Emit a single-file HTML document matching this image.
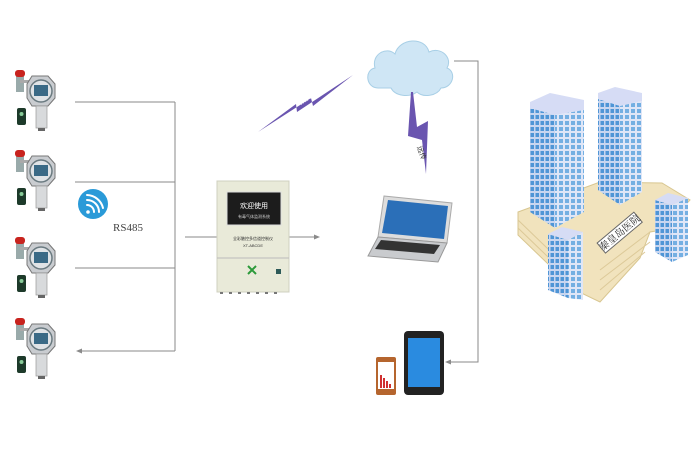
<!DOCTYPE html>
<html><head><meta charset="utf-8"><style>
html,body{margin:0;padding:0;background:#fff;width:700px;height:450px;overflow:hidden}
text{font-family:"Liberation Sans","Noto Sans CJK SC",sans-serif}
</style></head><body>
<svg width="700" height="450" viewBox="0 0 700 450" xmlns="http://www.w3.org/2000/svg">
<defs>
<pattern id="winL" width="5" height="6" patternUnits="userSpaceOnUse">
  <rect width="5" height="6" fill="#c8d6f0"/><rect x="0.5" y="1" width="3.5" height="4" fill="#4f95d6"/>
</pattern>
<pattern id="winR" width="6" height="6" patternUnits="userSpaceOnUse">
  <rect width="6" height="6" fill="#dfe6f7"/><rect x="1" y="1" width="4" height="4" fill="#74afe2"/>
</pattern>
<g id="sensor">
  <rect x="1" y="2" width="8" height="20" fill="#9aa" />
  <rect x="0" y="0" width="10" height="7" rx="3" fill="#c8231e"/>
  <rect x="5" y="10" width="12" height="3" fill="#aaa"/>
  <polygon points="17,6 33,6 40,14 40,28 33,36 17,36 12,28 12,14" fill="#c9ccd0" stroke="#777" stroke-width="1"/>
  <circle cx="26" cy="21" r="11" fill="#dfe3e6" stroke="#6a7a80" stroke-width="1.5"/>
  <rect x="19" y="15" width="14" height="11" fill="#3a6a86"/>
  <rect x="21" y="36" width="11" height="22" fill="#d8dadc" stroke="#999" stroke-width="0.7"/>
  <rect x="23" y="58" width="7" height="3" fill="#666"/>
  <rect x="2" y="38" width="9" height="17" rx="2" fill="#1d3a2a"/>
  <circle cx="6.5" cy="44" r="2" fill="#8c9"/>
</g>
</defs>
<g stroke="#8a8a8a" stroke-width="1" fill="none">
  <line x1="75" y1="102" x2="175" y2="102"/>
  <line x1="75" y1="182" x2="175" y2="182"/>
  <line x1="75" y1="268" x2="175" y2="268"/>
  <line x1="80" y1="351" x2="175" y2="351"/>
  <line x1="175" y1="102" x2="175" y2="351"/>
  <line x1="185" y1="237" x2="217" y2="237"/>
  <line x1="289" y1="237" x2="316" y2="237"/>
  <polyline points="454,61 478,61 478,362 449,362"/>
</g>
<polygon points="76,351 82,348.5 82,353.5" fill="#8a8a8a"/>
<polygon points="320,237 314,234.5 314,239.5" fill="#8a8a8a"/>
<polygon points="445,362 451,359.5 451,364.5" fill="#8a8a8a"/>
<use href="#sensor" x="15" y="70"/>
<use href="#sensor" x="15" y="150"/>
<use href="#sensor" x="15" y="237"/>
<use href="#sensor" x="15" y="318"/>
<circle cx="93" cy="204" r="15" fill="#2a9ad8"/>
<g fill="none" stroke="#fff" stroke-width="2" stroke-linecap="round">
  <path d="M87 205 a7 7 0 0 1 7 7"/>
  <path d="M87 200 a12 12 0 0 1 12 12"/>
  <path d="M87 195 a17 17 0 0 1 16 13"/>
</g>
<circle cx="88" cy="212" r="1.8" fill="#fff"/>
<text x="113" y="231" font-size="11" fill="#444" style="font-family:'Liberation Serif',serif">RS485</text>
<rect x="217" y="181" width="72" height="111" fill="#e9ead9" stroke="#cfd0c0"/>
<line x1="217" y1="258" x2="289" y2="258" stroke="#bbb"/>
<rect x="227" y="192" width="54" height="33" fill="#1c1c1c" stroke="#ddd"/>
<text x="254" y="208" font-size="7" fill="#fff" text-anchor="middle">欢迎使用</text>
<text x="254" y="218" font-size="4" fill="#ccc" text-anchor="middle">有毒气体监测系统</text>
<text x="253" y="240" font-size="4" fill="#333" text-anchor="middle">全彩触控多信道控制仪</text>
<text x="253" y="247" font-size="4" fill="#333" text-anchor="middle">XT-ABCDE</text>
<path d="M248 266 l8 8 M256 266 l-8 8" stroke="#2c9a3a" stroke-width="2"/>
<rect x="276" y="269" width="5" height="5" fill="#2d5a58"/>
<g fill="#777"><rect x="220" y="292" width="3" height="2"/><rect x="229" y="292" width="3" height="2"/><rect x="238" y="292" width="3" height="2"/><rect x="247" y="292" width="3" height="2"/><rect x="256" y="292" width="3" height="2"/><rect x="265" y="292" width="3" height="2"/><rect x="274" y="292" width="3" height="2"/></g>
<polygon points="258,132 296,104 297,112 353,75 313,106 311,98" fill="#6a55b0"/>
<text x="300" y="106" font-size="7" fill="#fff" transform="rotate(-35 300 106)" style="font-family:'Liberation Serif',serif">WiFi</text>
<path d="M378 88 c-12 0 -14 -18 -3 -20 c-4 -14 12 -22 20 -14 c4 -16 30 -18 34 -2 c12 -6 24 6 18 16 c10 4 6 20 -6 20 c-4 8 -18 10 -24 4 c-8 6 -22 4 -26 -4 z" fill="#cfe6f5" stroke="#a8cfe6"/>
<polygon points="411,92 413,92 417,127 428,121 426,174 422,140 408,136" fill="#6a55b0"/>
<text x="417" y="147" font-size="7" fill="#333" transform="rotate(70 417 147)">远传</text>
<polygon points="384,196 452,203 447,243 378,237" fill="#ddd" stroke="#aaa"/>
<polygon points="388,200 448,206 444,239 382,233" fill="#2b6fb8"/>
<polygon points="378,237 447,243 438,262 368,256" fill="#c9cbce" stroke="#999"/>
<polygon points="381,240 440,245 434,254 375,249" fill="#333"/>
<rect x="404" y="331" width="40" height="64" rx="4" fill="#222"/>
<rect x="408" y="338" width="32" height="49" fill="#2a8be0"/>
<rect x="376" y="357" width="20" height="38" rx="2" fill="#b5652e"/>
<rect x="378" y="362" width="16" height="27" fill="#fff"/>
<g fill="#d03030"><rect x="380" y="375" width="2" height="13"/><rect x="383" y="378" width="2" height="10"/><rect x="386" y="381" width="2" height="7"/><rect x="389" y="384" width="2" height="4"/></g>
<polygon points="518,212 600,182 662,183 690,200 662,230 650,232 640,258 600,302 575,290 518,235" fill="#f1e3bd" stroke="#d8c690"/>
<g stroke="#dcc998" stroke-width="1">
<line x1="518" y1="220" x2="575" y2="275"/><line x1="518" y1="228" x2="575" y2="283"/>
<line x1="600" y1="270" x2="650" y2="232"/><line x1="600" y1="280" x2="650" y2="242"/><line x1="600" y1="290" x2="645" y2="252"/>
</g>
<polygon points="530,102 550,93 584,100 584,110 555,115 530,108" fill="#d6dcf5"/>
<polygon points="530,108 555,115 555,228 530,212" fill="url(#winL)"/>
<polygon points="555,115 584,110 584,212 555,228" fill="url(#winR)"/>
<polygon points="598,93 615,87 642,93 642,101 620,106 598,99" fill="#d6dcf5"/>
<polygon points="598,99 620,106 620,205 598,190" fill="url(#winL)"/>
<polygon points="620,106 642,101 642,192 620,205" fill="url(#winR)"/>
<polygon points="548,234 568,240 568,298 548,290" fill="url(#winL)"/>
<polygon points="568,240 583,232 583,300 568,298" fill="url(#winR)"/>
<polygon points="548,234 562,227 583,232 568,240" fill="#d6dcf5"/>
<polygon points="655,200 672,205 672,262 655,252" fill="url(#winL)"/>
<polygon points="672,205 688,198 688,255 672,262" fill="url(#winR)"/>
<polygon points="655,200 668,193 688,198 672,205" fill="#d6dcf5"/>
<g transform="rotate(-40 620 233)">
<rect x="596" y="226" width="48" height="13" fill="#fff" stroke="#666"/>
<text x="620" y="236" font-size="10" fill="#222" text-anchor="middle" style="font-family:'Liberation Serif','Noto Serif CJK SC',serif">秦皇岛医院</text>
</g>
</svg>
</body></html>
